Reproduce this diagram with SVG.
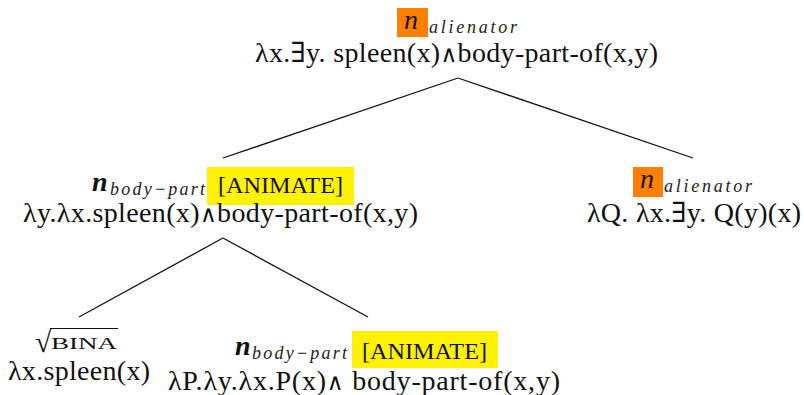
<svg xmlns="http://www.w3.org/2000/svg" width="804" height="395" viewBox="0 0 804 395">
<style>
.m{font-family:"Liberation Serif","DejaVu Serif",serif;font-size:28px;fill:#111}
.w{font-family:"DejaVu Serif",serif;font-size:23px}
.n{font-family:"Liberation Serif","DejaVu Serif",serif;font-size:28px;font-style:italic;fill:#111}
.nb{font-family:"Liberation Serif","DejaVu Serif",serif;font-size:28px;font-style:italic;font-weight:bold;fill:#111}
.s{font-family:"Liberation Serif","DejaVu Serif",serif;font-size:18px;font-style:italic;fill:#222}
.f{font-family:"Liberation Serif","DejaVu Serif",serif;font-size:23px;fill:#111}
.sc{font-family:"Liberation Serif","DejaVu Serif",serif;font-size:17px;fill:#111}
.or{fill:#ff8000}
.ye{fill:#fff200}
.e{stroke:#111;stroke-width:1.3;fill:none}
</style>
<g id="connectors">
<line class="e" x1="458" y1="78" x2="223" y2="158"/>
<line class="e" x1="458" y1="78" x2="693" y2="158"/>
<line class="e" x1="223" y1="238" x2="79" y2="317"/>
<line class="e" x1="223" y1="238" x2="368" y2="317"/>
</g>
<g id="node-root">
<rect class="or" x="397" y="8" width="31" height="29"/>
<text class="n" x="404" y="29">n</text>
<text class="s" x="429" y="33" textLength="88" lengthAdjust="spacing">alienator</text>
<text class="m" x="255" y="62" textLength="403" lengthAdjust="spacing">λx.∃y. spleen(x)<tspan class="w">∧</tspan>body-part-of(x,y)</text>
</g>
<g id="node-bodypart">
<text class="nb" x="92" y="191">n</text>
<text class="s" x="110" y="195" textLength="95" lengthAdjust="spacing">body−part</text>
<rect class="ye" x="207" y="167" width="147" height="38"/>
<text class="f" x="218" y="193" textLength="125" lengthAdjust="spacingAndGlyphs">[ANIMATE]</text>
<text class="m" x="23" y="222" textLength="395" lengthAdjust="spacing">λy.λx.spleen(x)<tspan class="w">∧</tspan>body-part-of(x,y)</text>
</g>
<g id="node-alienator">
<rect class="or" x="633" y="167" width="30" height="30"/>
<text class="n" x="640" y="188">n</text>
<text class="s" x="664" y="192" textLength="88" lengthAdjust="spacing">alienator</text>
<text class="m" x="587" y="222" textLength="214" lengthAdjust="spacing">λQ. λx.∃y. Q(y)(x)</text>
</g>
<g id="node-bina">
<text class="m" x="35" y="352" style="font-size:30px">√</text>
<line x1="50" y1="328.5" x2="118" y2="328.5" stroke="#111" stroke-width="1.2"/>
<text class="sc" x="51" y="349" textLength="66" lengthAdjust="spacingAndGlyphs">BINA</text>
<text class="m" x="8" y="380" textLength="142" lengthAdjust="spacing">λx.spleen(x)</text>
</g>
<g id="node-bodypart-head">
<text class="nb" x="235" y="355">n</text>
<text class="s" x="252" y="359" textLength="95" lengthAdjust="spacing">body−part</text>
<rect class="ye" x="352" y="331" width="146" height="37"/>
<text class="f" x="362" y="359" textLength="125" lengthAdjust="spacingAndGlyphs">[ANIMATE]</text>
<text class="m" x="168" y="390" textLength="392" lengthAdjust="spacing">λP.λy.λx.P(x)<tspan class="w">∧</tspan> body-part-of(x,y)</text>
</g>
</svg>
